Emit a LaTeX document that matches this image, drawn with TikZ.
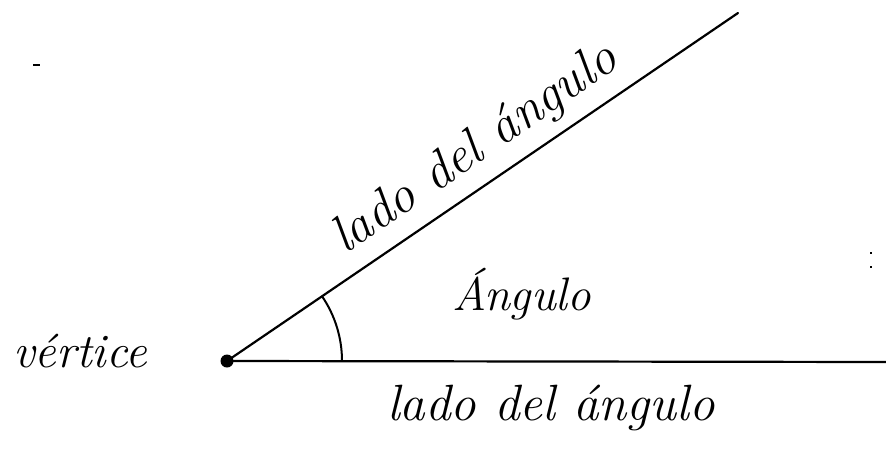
\documentclass[tikz,border=0pt]{standalone}
\begin{document}
\begin{tikzpicture}[x=1pt,y=-1pt,
  ray/.style={line width=2.2pt, line cap=round},
  hand/.style={font=\itshape, inner sep=0pt, anchor=base west},
  speck/.style={fill=black, draw=none}]
\useasboundingbox (0,0) rectangle (886,450);
\fill[white] (0,0) rectangle (886,450);
% points
\coordinate (v) at (227,361);
\coordinate (top) at (738,13);
\coordinate (right) at (886,362);
\coordinate (arcstart) at (342,361);
% sides
\draw[ray] (v) -- (top);
\draw[ray] (v) -- (right);
% angle arc
\draw[line width=2pt] (arcstart) arc[start angle=0, end angle=34.3, radius=115pt];
% vertex dot
\fill (v) circle[radius=6.5pt];
% labels
\node[hand, font=\fontsize{48}{50}\selectfont\itshape] (lv) at (13,367) {vértice};
\node[hand, font=\fontsize{52}{54}\selectfont\itshape, rotate=34.5] (lup) at (345,255) {lado del ángulo};
\node[hand, font=\fontsize{47}{49}\selectfont\itshape] (lang) at (452,310) {Ángulo};
\node[hand, font=\fontsize{51}{53}\selectfont\itshape] (ldown) at (387,420) {lado del ángulo};
% scan specks
\fill[speck] (33,64) rectangle (40,66);
\fill[speck] (870,252) rectangle (872,254);
\fill[speck] (870,266) rectangle (872,268);
\end{tikzpicture}
\end{document}
